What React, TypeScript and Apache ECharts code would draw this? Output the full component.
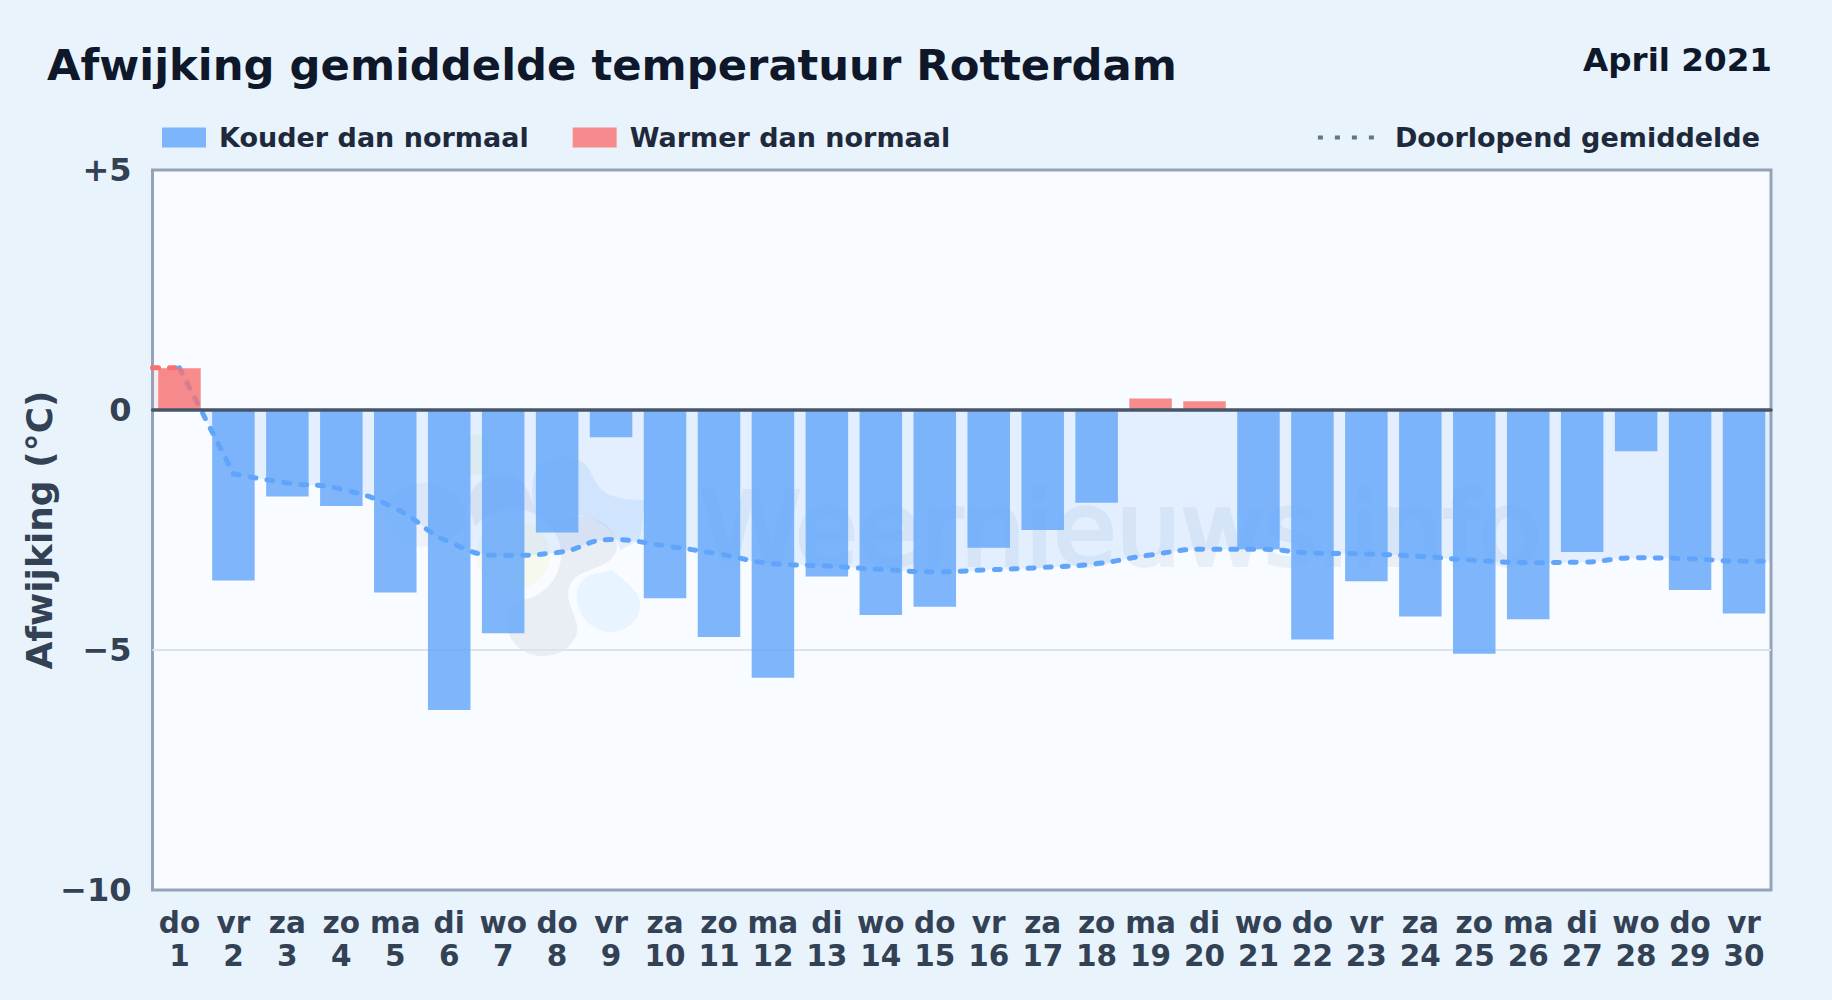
import React, { useEffect, useRef } from "react";
import * as echarts from "echarts";

const weekdays = ["do","vr","za","zo","ma","di","wo","do","vr","za","zo","ma","di","wo","do","vr","za","zo","ma","di","wo","do","vr","za","zo","ma","di","wo","do","vr"];
const dayNumbers = ["1","2","3","4","5","6","7","8","9","10","11","12","13","14","15","16","17","18","19","20","21","22","23","24","25","26","27","28","29","30"];
const coldValues = [null,-3.55,-1.8,-2.0,-3.8,-6.25,-4.65,-2.55,-0.57,-3.92,-4.73,-5.58,-3.47,-4.27,-4.1,-2.87,-2.5,-1.93,null,null,-2.9,-4.78,-3.57,-4.3,-5.08,-4.36,-2.96,-0.86,-3.75,-4.24];
const warmValues = [0.87,null,null,null,null,null,null,null,null,null,null,null,null,null,null,null,null,null,0.24,0.18,null,null,null,null,null,null,null,null,null,null];
const runningMean = [0.88,-1.33,-1.52,-1.65,-2.05,-2.75,-3.03,-2.97,-2.7,-2.83,-3.0,-3.2,-3.25,-3.32,-3.37,-3.33,-3.28,-3.2,-3.02,-2.9,-2.9,-2.98,-3.0,-3.05,-3.13,-3.18,-3.17,-3.08,-3.1,-3.15];
const yTicks: Record<string, string> = { "5": "+5", "0": "0", "-5": "\u22125", "-10": "\u221210" };

const FONT = '"DejaVu Sans", sans-serif';
const COLD = "rgba(96,165,250,0.8)";
const WARM = "rgba(248,113,113,0.8)";
const LINE_BLUE = "#60a5fa";
const LINE_RED = "#f87171";
const DASH = [6, 11];
const WATERMARK = "#e8eff7";
const dotsIcon = "path://M0 0h5v4h-5zM17 0h5v4h-5zM34 0h5v4h-5zM51 0h5v4h-5z";

echarts.graphic.registerShape("logoGray", echarts.graphic.extendPath(
  "M470 500 C470 482 490 474 505 475 C525 476 533 495 535 520 C555 516 575 515 590 518 C608 522 618 535 617 548 C615 562 600 566 585 572 C570 578 565 590 570 605 C575 618 580 628 575 638 C567 652 552 657 540 656 C520 654 508 640 507 625 C506 612 514 605 517 595 C505 560 470 540 470 500 Z", {}));
echarts.graphic.registerShape("logoBlueTop", echarts.graphic.extendPath(
  "M545 460 C565 455 585 455 592 475 C600 495 615 500 645 500 L640 540 L620 550 C615 525 590 515 570 515 L535 520 C530 490 530 470 545 460 Z", {}));
echarts.graphic.registerShape("logoBlueLow", echarts.graphic.extendPath(
  "M583 580 C592 572 605 572 613 570 C622 580 640 590 640 605 C640 622 625 632 610 632 C592 632 578 615 577 600 C576 592 578 586 583 580 Z", {}));

const blob = (cx: number, cy: number, rx: number, ry: number, fill: string) => ({
  type: "ellipse", shape: { cx, cy, rx, ry }, style: { fill }, silent: true,
});

export default function App() {
  const ref = useRef<HTMLDivElement>(null);
  useEffect(() => {
    document.body.style.margin = "0";
    const chart = echarts.init(ref.current!, undefined, { renderer: "svg" });
    const meanPoints = runningMean.map((v, i) => [i + 1, v]);
    const redPoints = [[0.5, runningMean[0]], meanPoints[0]];
    const steepPoints = meanPoints.slice(0, 2);
    const bluePoints = [...meanPoints.slice(1), [30.5, runningMean[29]]];
    const lineStyle = { color: LINE_BLUE, width: 5, type: DASH, cap: "round" };
    chart.setOption({
      animation: false,
      backgroundColor: "#e8f3fc",
      textStyle: { fontFamily: FONT },
      title: [
        { text: "Afwijking gemiddelde temperatuur Rotterdam", left: 42, top: 38,
          textStyle: { fontFamily: FONT, fontSize: 43.3, fontWeight: "bold", color: "#0f172a" } },
        { text: "April 2021", right: 55, top: 38,
          textStyle: { fontFamily: FONT, fontSize: 32.6, fontWeight: "bold", color: "#0f172a" } },
      ],
      legend: [
        { left: 162, top: 124, itemWidth: 44, itemHeight: 20, itemGap: 44, padding: 0,
          data: [{ name: "Kouder dan normaal", icon: "rect" }, { name: "Warmer dan normaal", icon: "rect" }],
          textStyle: { fontFamily: FONT, fontSize: 27, fontWeight: "bold", color: "#1e293b", padding: [0, 0, 0, 8] } },
        { right: 72, top: 124, itemWidth: 56, itemHeight: 5, padding: 0,
          data: [{ name: "Doorlopend gemiddelde", icon: dotsIcon, itemStyle: { color: "#64748b", opacity: 1 }, lineStyle: { opacity: 0 } }],
          textStyle: { fontFamily: FONT, fontSize: 27, fontWeight: "bold", color: "#1e293b", padding: [0, 0, 0, 16] } },
      ],
      graphic: [
        { type: "group", silent: true, children: [
          { type: "rect", shape: { x: 152.5, y: 170, width: 1618.5, height: 720 }, style: { fill: "#f8fbff", stroke: "#94a3b8", lineWidth: 3 } },
          blob(478, 455, 25, 20, "rgba(214,232,196,0.22)"),
          blob(425, 515, 40, 32, "rgba(226,232,240,0.4)"),
          { type: "logoBlueTop", style: { fill: "rgba(147,197,253,0.2)" } },
          { type: "logoGray", style: { fill: "rgba(148,163,184,0.15)" } },
          blob(513, 555, 48, 46, "#f8fbff"),
          blob(513, 555, 37, 35, "rgba(240,244,200,0.3)"),
          { type: "logoBlueLow", style: { fill: "rgba(186,222,253,0.24)" } },
          { type: "text", x: 700, y: 580, style: { text: "Weernieuws.info", fontFamily: FONT, fontSize: 102,
            fill: WATERMARK, stroke: WATERMARK, lineWidth: 4, verticalAlign: "bottom" } },
        ] },
      ],
      grid: { left: 152.5, right: 61, top: 170, bottom: 110, show: false },
      xAxis: [
        { type: "category", position: "bottom", data: weekdays.map((d, i) => `${d}\n${dayNumbers[i]}`),
          axisLine: { show: false, onZero: false }, axisTick: { show: false }, splitLine: { show: false },
          axisLabel: { interval: 0, margin: 16, fontFamily: FONT, fontSize: 29.5, lineHeight: 33, fontWeight: "bold", color: "#334155" } },
        { type: "value", position: "bottom", min: 0.5, max: 30.5, z: 5,
          axisLine: { show: true, onZero: true, lineStyle: { color: "#475569", width: 3.5 } },
          axisTick: { show: false }, axisLabel: { show: false }, splitLine: { show: false } },
      ],
      yAxis: {
        type: "value", min: -10, max: 5, interval: 5,
        name: "Afwijking (\u00b0C)", nameLocation: "middle", nameGap: 95.5, nameMoveOverlap: false,
        nameTextStyle: { fontFamily: FONT, fontSize: 36, fontWeight: "bold", color: "#334155" },
        axisLine: { show: false }, axisTick: { show: false },
        axisLabel: { margin: 21, fontFamily: FONT, fontSize: 32, fontWeight: "bold", color: "#334155",
          formatter: (v: number) => yTicks[String(v)] ?? String(v) },
        splitLine: { show: true, showMinLine: false, showMaxLine: false, lineStyle: { color: "#dde3ea", width: 2 } },
      },
      series: [
        { name: "Warmer dan normaal", type: "bar", xAxisIndex: 0, data: warmValues, barWidth: 42.5, barGap: "-100%", itemStyle: { color: WARM }, z: 3 },
        { name: "Kouder dan normaal", type: "bar", xAxisIndex: 0, data: coldValues, barWidth: 42.5, barGap: "-100%", itemStyle: { color: COLD }, z: 3 },
        { name: "Warm lijn", type: "line", xAxisIndex: 1, data: redPoints, showSymbol: false, z: 2,
          lineStyle: { ...lineStyle, color: LINE_RED }, areaStyle: { color: "rgba(248,113,113,0.15)" } },
        { name: "Eerste daling", type: "line", xAxisIndex: 1, data: steepPoints, showSymbol: false, z: 2,
          lineStyle, areaStyle: { color: "rgba(96,165,250,0.2)" } },
        { name: "Doorlopend gemiddelde", type: "line", xAxisIndex: 1, data: bluePoints, showSymbol: false, smooth: 0.5, z: 2,
          lineStyle, areaStyle: { color: "rgba(96,165,250,0.2)" } },
      ],
    });
    return () => chart.dispose();
  }, []);
  return <div ref={ref} style={{ width: 1832, height: 1000 }} />;
}
